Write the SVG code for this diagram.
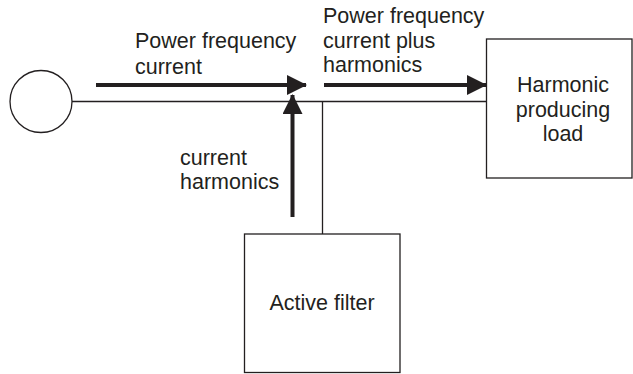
<svg xmlns="http://www.w3.org/2000/svg" width="633" height="374" viewBox="0 0 633 374">
<style>
.thin{fill:none;stroke:#231f20;stroke-width:1.3}
.thick{fill:none;stroke:#231f20;stroke-width:4}
.box{fill:#fff;stroke:#231f20;stroke-width:1.3}
text{font-family:"Liberation Sans",Arial,sans-serif;font-size:21.5px;fill:#231f20}
</style>
<defs>
<marker id="ah" markerUnits="userSpaceOnUse" markerWidth="20" markerHeight="20" refX="19" refY="10" orient="auto" viewBox="0 0 20 20">
<path d="M0,0 L20,10 L0,20 Z" fill="#231f20"/>
</marker>
</defs>
<rect width="633" height="374" fill="#fff"/>
<g id="connectors">
<line class="thin" x1="72" y1="101.5" x2="486" y2="101.5"/>
<line class="thin" x1="322.5" y1="101.5" x2="322.5" y2="234"/>
<line class="thick" x1="96" y1="85" x2="306" y2="85" marker-end="url(#ah)"/>
<line class="thick" x1="292.5" y1="217" x2="292.5" y2="95" marker-end="url(#ah)"/>
<line class="thick" x1="324" y1="85" x2="486" y2="85" marker-end="url(#ah)"/>
</g>
<g id="source">
<circle class="box" cx="41" cy="101.5" r="31"/>
</g>
<g id="load">
<rect class="box" x="486.5" y="39" width="145.5" height="139"/>
<text x="563" y="92" text-anchor="middle">Harmonic</text>
<text x="563" y="117" text-anchor="middle">producing</text>
<text x="563" y="141" text-anchor="middle">load</text>
</g>
<g id="filter">
<rect class="box" x="244.5" y="234" width="155.5" height="138.5"/>
<text x="322" y="310" text-anchor="middle">Active filter</text>
</g>
<g id="labels">
<text x="135" y="48">Power frequency</text>
<text x="135" y="74">current</text>
<text x="180" y="165">current</text>
<text x="180" y="189">harmonics</text>
<text x="323" y="23">Power frequency</text>
<text x="323" y="48">current plus</text>
<text x="323" y="72">harmonics</text>
</g>
</svg>
